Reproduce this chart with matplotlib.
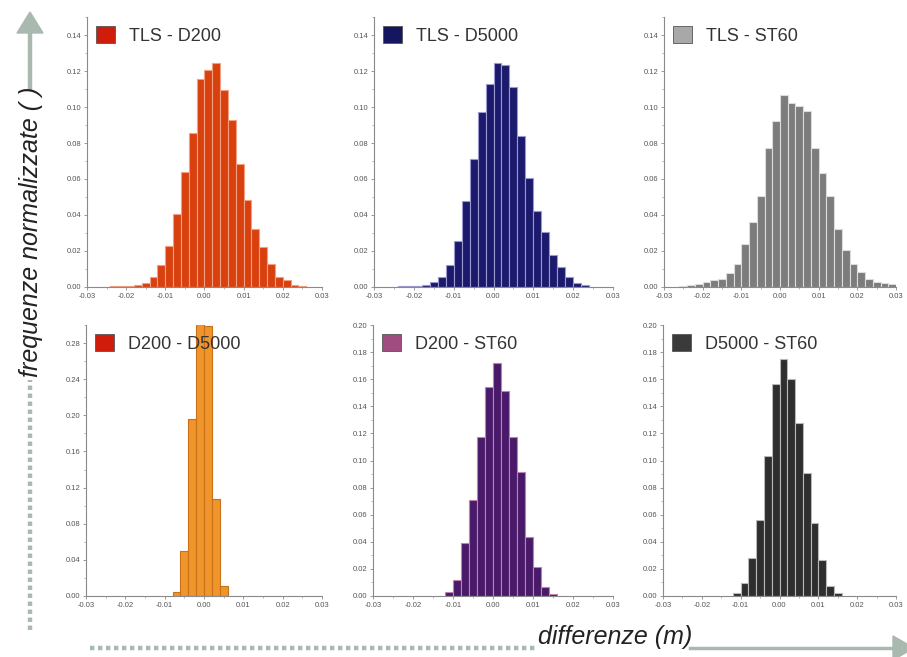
import numpy as np
import matplotlib
matplotlib.use("Agg")
import matplotlib.pyplot as plt
from matplotlib.patches import Patch, Polygon
from matplotlib.lines import Line2D
from matplotlib.ticker import MultipleLocator

plt.rcParams['font.family'] = ['Liberation Sans', 'DejaVu Sans']

# bin centres (m) and normalised frequencies
tls_d200_x = [-0.023, -0.021, -0.019, -0.017, -0.015, -0.013, -0.011, -0.009, -0.007, -0.005,
              -0.003, -0.001, 0.001, 0.003, 0.005, 0.007, 0.009, 0.011, 0.013, 0.015,
              0.017, 0.019, 0.021, 0.023, 0.025]
tls_d200_y = [0.0004, 0.0005, 0.0006, 0.0010, 0.0022, 0.0055, 0.0123, 0.0230, 0.0406, 0.0640,
              0.0854, 0.1157, 0.1203, 0.1244, 0.1095, 0.0928, 0.0685, 0.0485, 0.0321, 0.0224,
              0.0127, 0.0053, 0.0037, 0.0013, 0.0008]

tls_d5000_x = [-0.023, -0.021, -0.019, -0.017, -0.015, -0.013, -0.011, -0.009, -0.007, -0.005,
               -0.003, -0.001, 0.001, 0.003, 0.005, 0.007, 0.009, 0.011, 0.013, 0.015,
               0.017, 0.019, 0.021, 0.023]
tls_d5000_y = [0.0004, 0.0005, 0.0007, 0.0013, 0.0030, 0.0055, 0.0123, 0.0257, 0.0476, 0.0711,
               0.0972, 0.1126, 0.1244, 0.1234, 0.1111, 0.0841, 0.0606, 0.0423, 0.0307, 0.0175,
               0.0110, 0.0055, 0.0020, 0.0010]

tls_st60_x = [-0.025, -0.023, -0.021, -0.019, -0.017, -0.015, -0.013, -0.011, -0.009, -0.007,
              -0.005, -0.003, -0.001, 0.001, 0.003, 0.005, 0.007, 0.009, 0.011, 0.013,
              0.015, 0.017, 0.019, 0.021, 0.023, 0.025, 0.027, 0.029]
tls_st60_y = [0.0005, 0.0010, 0.0017, 0.0026, 0.0039, 0.0042, 0.0075, 0.0127, 0.0241, 0.0360,
              0.0507, 0.0770, 0.0924, 0.1068, 0.1022, 0.1003, 0.0980, 0.0770, 0.0636, 0.0503,
              0.0320, 0.0208, 0.0125, 0.0085, 0.0042, 0.0029, 0.0020, 0.0017]

d200_d5000_x = [-0.007, -0.005, -0.003, -0.001, 0.001, 0.003, 0.005]
d200_d5000_y = [0.0041, 0.0493, 0.1960, 0.3020, 0.2990, 0.1070, 0.0110]

d200_st60_x = [-0.011, -0.009, -0.007, -0.005, -0.003, -0.001, 0.001, 0.003, 0.005, 0.007,
               0.009, 0.011, 0.013, 0.015]
d200_st60_y = [0.0032, 0.0118, 0.0390, 0.0710, 0.1174, 0.1544, 0.1716, 0.1512, 0.1174, 0.0912,
               0.0432, 0.0217, 0.0069, 0.0015]

d5000_st60_x = [-0.011, -0.009, -0.007, -0.005, -0.003, -0.001, 0.001, 0.003, 0.005, 0.007,
                0.009, 0.011, 0.013, 0.015]
d5000_st60_y = [0.0020, 0.0094, 0.0279, 0.0562, 0.1030, 0.1568, 0.1746, 0.1603, 0.1277, 0.0907,
                0.0538, 0.0266, 0.0074, 0.0020]

titles = ['TLS - D200', 'TLS - D5000', 'TLS - ST60', 'D200 - D5000', 'D200 - ST60', 'D5000 - ST60']
xs = [tls_d200_x, tls_d5000_x, tls_st60_x, d200_d5000_x, d200_st60_x, d5000_st60_x]
ys = [tls_d200_y, tls_d5000_y, tls_st60_y, d200_d5000_y, d200_st60_y, d5000_st60_y]

bar_colors = ['#d8400e', '#1c1a6c', '#7c7c7c', '#f0952a', '#4a1a6a', '#2e2e2e']
edge_colors = ['#f0a080', '#9a98d0', '#dcdcdc', '#c8701a', '#c080b0', '#b8b8b8']
legend_colors = ['#d01c0a', '#161660', '#a8a8a8', '#d01c0a', '#a04c80', '#3a3a3a']
ylims = [0.15, 0.15, 0.15, 0.30, 0.20, 0.20]
ysteps = [0.02, 0.02, 0.02, 0.04, 0.02, 0.02]

W, H = 907, 657
fig = plt.figure(figsize=(W / 100, H / 100), dpi=100)
fig.patch.set_facecolor('white')

# axes boxes in pixels: left, top, right, bottom
boxes = [(87, 17, 322, 287), (374, 17, 613, 287), (664, 17, 896, 287),
         (86, 325, 322, 596), (373, 325, 613, 596), (663, 325, 896, 596)]

for i in range(6):
    l, t, r, b = boxes[i]
    ax = fig.add_axes([l / W, 1 - b / H, (r - l) / W, (b - t) / H])
    ax.bar(xs[i], ys[i], width=0.002, color=bar_colors[i], edgecolor=edge_colors[i], linewidth=0.8)
    ax.set_xlim(-0.03, 0.03)
    ax.set_ylim(0, ylims[i])
    ax.set_xticks([-0.03, -0.02, -0.01, 0.0, 0.01, 0.02, 0.03])
    ax.xaxis.set_minor_locator(MultipleLocator(0.005))
    ax.yaxis.set_major_locator(MultipleLocator(ysteps[i]))
    ax.yaxis.set_minor_locator(MultipleLocator(ysteps[i] / 2))
    ax.xaxis.set_major_formatter(lambda v, p: '%.2f' % v)
    ax.yaxis.set_major_formatter(lambda v, p: '%.2f' % v)
    for s in ['top', 'right']:
        ax.spines[s].set_visible(False)
    for s in ['left', 'bottom']:
        ax.spines[s].set_color('#8a8a8a')
        ax.spines[s].set_linewidth(0.8)
    ax.tick_params(which='major', length=2.5, width=0.6, color='#8a8a8a',
                   labelsize=5.5, labelcolor='#555555', pad=1.5)
    ax.tick_params(which='minor', length=1.5, width=0.5, color='#9a9a9a')
    ax.set_facecolor('none')
    h = Patch(facecolor=legend_colors[i], edgecolor='#555555', linewidth=0.6)
    leg = ax.legend(handles=[h], labels=[titles[i]], loc='upper left', bbox_to_anchor=(0.0, 1.0),
                    frameon=False, fontsize=13, handlelength=1.05, handleheight=1.05,
                    handletextpad=0.8, borderaxespad=0.3, borderpad=0.2)
    for tx in leg.get_texts():
        tx.set_color('#333333')


def fpt(x, y):
    return (x / W, 1 - y / H)


arrow_col = '#a9b9b0'
# vertical arrow (y axis)
x0, y0 = fpt(30, 630)
x1, y1 = fpt(30, 380)
fig.add_artist(Line2D([x0, x1], [y0, y1], transform=fig.transFigure, color=arrow_col,
                      lw=3.2, linestyle=(0, (1, 0.8))))
x0, y0 = fpt(30, 88)
x1, y1 = fpt(30, 31)
fig.add_artist(Line2D([x0, x1], [y0, y1], transform=fig.transFigure, color=arrow_col, lw=3.2))
fig.add_artist(Polygon([fpt(17, 33), fpt(43, 33), fpt(30, 12)], closed=True,
                       transform=fig.transFigure, color=arrow_col))

# horizontal arrow (x axis)
x0, y0 = fpt(90, 648)
x1, y1 = fpt(538, 648)
fig.add_artist(Line2D([x0, x1], [y0, y1], transform=fig.transFigure, color=arrow_col,
                      lw=3.2, linestyle=(0, (1, 0.8))))
x0, y0 = fpt(690, 648)
x1, y1 = fpt(895, 648)
fig.add_artist(Line2D([x0, x1], [y0, y1], transform=fig.transFigure, color=arrow_col, lw=2.5))
fig.add_artist(Polygon([fpt(893, 636), fpt(893, 660), fpt(914, 648)], closed=True,
                       transform=fig.transFigure, color=arrow_col))

fig.text(31 / W, 1 - 232 / H, 'frequenze normalizzate ( )', rotation=90, ha='center', va='center',
         fontsize=18, style='italic', color='#222222')
fig.text(615 / W, 1 - 637 / H, 'differenze (m)', ha='center', va='center',
         fontsize=18, style='italic', color='#222222')

fig.savefig('out.png', dpi=100, facecolor='white')
